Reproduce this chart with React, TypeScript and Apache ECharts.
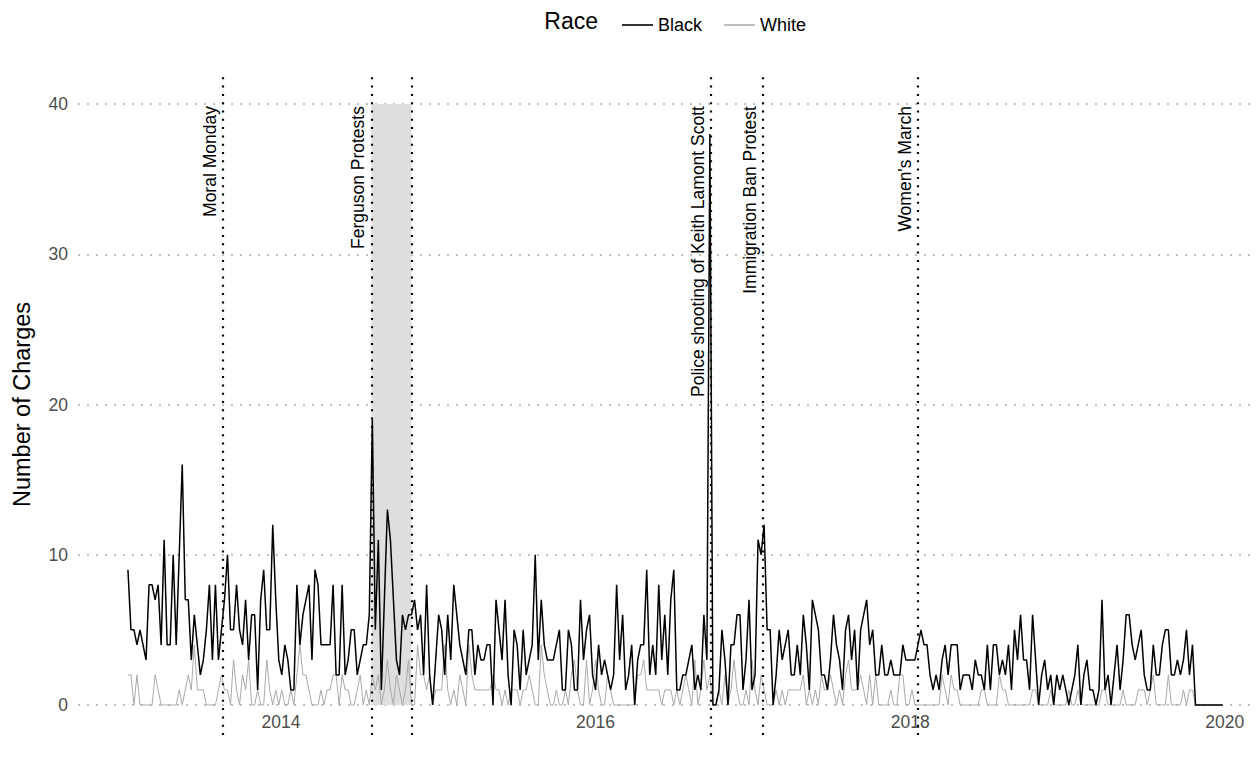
import React, { useEffect, useRef } from "react";
import * as echarts from "echarts";

// Weekly counts starting the week of 2013-01-11
const startDate = Date.UTC(2013, 0, 11);
const WEEK = 7 * 24 * 3600 * 1000;

const blackCounts = [
  9, 5, 5, 4, 5, 4, 3, 8, 8, 7, 8, 4, 11, 4, 4, 10, 4, 10, 16, 7, 7, 3, 6, 4, 2, 3, 5, 8, 3,
  8, 3, 5, 7, 10, 5, 5, 8, 5, 4, 7, 3, 6, 6, 1, 7, 9, 5, 5, 12, 7, 3, 2, 4, 3, 1, 1, 8, 4, 6,
  7, 8, 3, 9, 8, 4, 4, 4, 4, 8, 2, 2, 8, 2, 3, 5, 5, 2, 3, 4, 4, 6, 19, 5, 11, 1, 7, 13, 11, 7,
  3, 2, 6, 5, 6, 6, 7, 5, 6, 2, 8, 2, 0, 3, 6, 5, 2, 6, 3, 8, 6, 4, 3, 2, 5, 5, 2, 4, 3, 3, 4,
  4, 0, 7, 5, 3, 7, 2, 0, 5, 4, 1, 5, 2, 3, 4, 10, 3, 7, 4, 3, 3, 3, 4, 5, 1, 1, 5, 4, 1, 1, 7,
  3, 5, 6, 2, 1, 4, 2, 3, 2, 1, 2, 8, 3, 6, 1, 2, 4, 0, 3, 4, 4, 9, 2, 4, 2, 8, 3, 6, 2, 7, 9,
  1, 1, 2, 2, 3, 4, 1, 2, 1, 6, 3, 38, 0, 0, 1, 5, 3, 0, 4, 4, 6, 6, 1, 3, 7, 1, 2, 11, 10, 12, 5,
  5, 0, 2, 5, 3, 4, 5, 2, 2, 4, 2, 6, 4, 1, 7, 6, 5, 2, 2, 1, 3, 6, 4, 3, 1, 5, 6, 3, 5, 1, 5,
  6, 7, 4, 5, 2, 2, 4, 2, 2, 3, 2, 2, 2, 4, 3, 3, 3, 3, 4, 5, 4, 4, 2, 1, 2, 1, 3, 4, 2, 4, 4,
  4, 1, 2, 2, 2, 1, 3, 2, 2, 1, 4, 1, 4, 4, 2, 3, 2, 4, 1, 5, 3, 6, 3, 3, 1, 6, 3, 0, 2, 3, 1,
  2, 0, 2, 1, 2, 1, 0, 1, 2, 4, 0, 2, 3, 1, 1, 0, 1, 7, 1, 2, 0, 2, 4, 1, 3, 6, 6, 4, 3, 4, 5,
  2, 1, 1, 4, 2, 2, 4, 5, 5, 2, 2, 3, 2, 3, 5, 2, 4, 0,
  0, 0, 0, 0, 0, 0, 0, 0, 0,
];

const whiteCounts = [
  2, 2, 0, 2, 0, 0, 0, 0, 0, 2, 1, 0, 0, 0, 0, 0, 0, 1, 0, 1, 2, 1, 4, 1, 1, 1, 0, 0, 0,
  0, 1, 2, 1, 1, 0, 3, 1, 0, 2, 1, 3, 0, 0, 1, 0, 0, 3, 1, 0, 1, 0, 1, 0, 0, 1, 0, 2, 4, 2,
  2, 1, 0, 0, 0, 1, 0, 1, 1, 2, 2, 0, 2, 1, 1, 0, 0, 1, 2, 0, 1, 0, 2, 1, 2, 0, 1, 3, 1, 0,
  2, 1, 0, 1, 3, 0, 0, 4, 2, 2, 1, 2, 0, 1, 1, 1, 4, 1, 0, 1, 0, 2, 1, 0, 4, 2, 1, 1, 1, 1, 1,
  1, 2, 1, 1, 0, 1, 0, 1, 1, 1, 0, 1, 1, 2, 1, 0, 0, 4, 2, 1, 0, 0, 1, 0, 0, 1, 0, 2, 3, 1, 0,
  0, 3, 0, 1, 3, 1, 0, 0, 2, 1, 0, 0, 0, 0, 0, 0, 0, 0, 2, 2, 3, 1, 1, 1, 1, 1, 0, 1, 1, 1, 0,
  1, 0, 1, 2, 1, 0, 3, 0, 1, 3, 1, 2, 0, 0, 1, 0, 2, 0, 1, 3, 1, 0, 0, 1, 0, 3, 1, 0, 2, 1, 0,
  0, 0, 1, 0, 1, 0, 1, 1, 1, 1, 1, 2, 0, 1, 0, 1, 0, 2, 1, 1, 2, 1, 0, 1, 0, 2, 3, 1, 1, 1, 2,
  1, 0, 2, 0, 2, 0, 0, 0, 0, 1, 0, 0, 2, 2, 0, 0, 1, 0, 0, 0, 0, 0, 0, 0, 0, 0, 2, 1, 0, 2, 1,
  1, 0, 0, 0, 0, 0, 0, 0, 1, 1, 0, 0, 0, 0, 2, 1, 1, 0, 0, 0, 0, 0, 0, 0, 0, 1, 1, 0, 0, 0, 0,
  1, 0, 0, 0, 0, 0, 1, 0, 0, 1, 0, 0, 0, 0, 0, 0, 0, 1, 1, 0, 0, 0, 0, 0, 1, 0, 0, 0, 0, 1, 1,
  1, 0, 1, 2, 0, 0, 0, 0, 2, 0, 0, 0, 0, 1, 0, 1, 1, 0,
  0, 0, 0, 0, 0, 0, 0, 0, 0,
];

const yTicks = [0, 10, 20, 30, 40];
const xTicks = [2014, 2016, 2018, 2020];

const eventLabels = [
  "Moral Monday",
  "Ferguson Protests",
  "Police shooting of Keith Lamont Scott",
  "Immigration Ban Protest",
  "Women's March",
];
const eventDates = ["2013-08-20", "2014-07-30", "2016-09-25", "2017-01-24", "2018-01-18"];
const shadedStart = "2014-07-30";
const shadedEnd = "2014-10-31";

const FONT = "'Liberation Sans', Arial, Helvetica, sans-serif";

function toYear(ts: number): number {
  const d = new Date(ts);
  const y = d.getUTCFullYear();
  const a = Date.UTC(y, 0, 1);
  const b = Date.UTC(y + 1, 0, 1);
  return y + (ts - a) / (b - a);
}
const dateYear = (s: string) => toYear(Date.parse(s + "T00:00:00Z"));

export default function App() {
  const ref = useRef<HTMLDivElement>(null);
  useEffect(() => {
    const chart = echarts.init(ref.current!, null, { renderer: "svg" });
    const blackData = blackCounts.map((v, i) => [toYear(startDate + i * WEEK), v]);
    const whiteData = whiteCounts.map((v, i) => [toYear(startDate + i * WEEK), v]);
    const vLines = [...eventDates, shadedEnd].map((d) => ({ xAxis: dateYear(d) }));

    chart.setOption({
      animation: false,
      backgroundColor: "#ffffff",
      textStyle: { fontFamily: FONT },
      grid: { left: 78, right: 6, top: 74, bottom: 29, containLabel: false },
      legend: {
        data: [
          { name: "Black", icon: "rect", itemStyle: { color: "#000" } },
          { name: "White", icon: "rect", itemStyle: { color: "#b0b0b0" } },
        ],
        left: 617,
        top: 11,
        itemWidth: 31,
        itemHeight: 1.6,
        itemGap: 22,
        textStyle: { fontSize: 18, color: "#000", fontFamily: FONT },
      },
      graphic: [],
      xAxis: {
        type: "value",
        min: 2012.71,
        max: 2020.16,
        axisLine: { show: false },
        axisTick: { show: false, customValues: xTicks },
        splitLine: { show: false },
        axisLabel: {
          customValues: xTicks,
          formatter: (v: number) => String(Math.round(v)),
          color: "#4d4d4d",
          fontSize: 17.5,
          margin: -22,
          fontFamily: FONT,
        },
      },
      yAxis: {
        type: "value",
        min: -2,
        max: 42,
        name: "Number of Charges",
        nameLocation: "middle",
        nameGap: 44,
        nameTextStyle: { fontSize: 23.5, color: "#000", fontFamily: FONT },
        axisLine: { show: false },
        axisTick: { show: false, customValues: yTicks },
        axisLabel: {
          customValues: yTicks,
          color: "#4d4d4d",
          fontSize: 17.5,
          margin: 10,
          fontFamily: FONT,
        },
        splitLine: {
          show: true,
          lineStyle: { color: "#c0c0c0", width: 2, type: [2, 7] },
        },
      },
      series: [
        {
          name: "shade",
          type: "line",
          data: [],
          z: 1,
          silent: true,
          markArea: {
            silent: true,
            itemStyle: { color: "#dedede" },
            data: [[{ xAxis: dateYear(shadedStart), yAxis: 0 }, { xAxis: dateYear(shadedEnd), yAxis: 40 }]],
          },
        },
        {
          name: "White",
          type: "line",
          data: whiteData,
          symbol: "none",
          z: 2,
          color: "#b0b0b0",
          lineStyle: { color: "#a9a9a9", width: 1 },
        },
        {
          name: "Black",
          type: "line",
          data: blackData,
          symbol: "none",
          z: 3,
          color: "#000000",
          lineStyle: { color: "#000000", width: 1.5 },
          markLine: {
            silent: true,
            symbol: ["none", "none"],
            label: { show: false },
            lineStyle: { color: "#000", width: 2.2, type: [2, 6.3] },
            data: vLines,
          },
        },
      ],
    });

    const graphics: any[] = eventLabels.map((label, i) => {
      const [px, py] = chart.convertToPixel({ gridIndex: 0 }, [dateYear(eventDates[i]), 40]);
      return {
        type: "text",
        x: px - 13,
        y: py + 2,
        rotation: Math.PI / 2,
        style: {
          text: label,
          align: "right",
          verticalAlign: "middle",
          fontSize: 17.5,
          fontFamily: FONT,
          fill: "#000",
        },
      };
    });
    graphics.push({
      type: "text",
      x: 598,
      y: 21,
      style: {
        text: "Race",
        align: "right",
        verticalAlign: "middle",
        fontSize: 23,
        fontFamily: FONT,
        fill: "#000",
      },
    });
    chart.setOption({ graphic: graphics });

    return () => chart.dispose();
  }, []);
  return (
    <div
      ref={ref}
      style={{ position: "fixed", left: 0, top: 0, width: 1256, height: 764 }}
    />
  );
}
